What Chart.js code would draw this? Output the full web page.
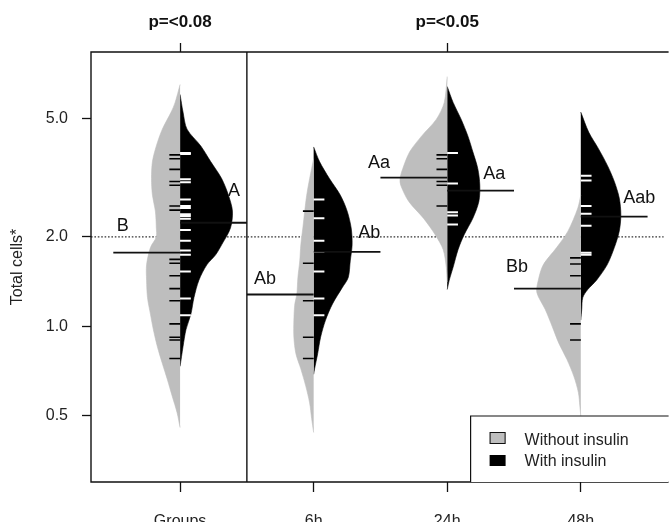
<!DOCTYPE html>
<html><head><meta charset="utf-8">
<script src="https://cdn.jsdelivr.net/npm/chart.js@4.4.1/dist/chart.umd.min.js"></script>
<style>html,body{margin:0;padding:0;background:#fff;overflow:hidden}canvas{display:block}</style>
</head><body>
<canvas id="c" width="671" height="522"></canvas>
<script>
// ---------------- DATA ----------------
const categories = ['Groups', '6h', '24h', '48h'];
const seriesNames = ['Without insulin', 'With insulin'];
const pValueLabels = ['p=<0.08', '', 'p=<0.05', ''];
const yTickValues = [0.5, 1.0, 2.0, 5.0];
const yAxisTitle = 'Total cells*';

// bean outlines: Total cells level and half-width (category units)
const woGroupsLevels = [6.50, 5.66, 5.25, 4.60, 4.04, 3.58, 3.14, 2.76, 2.44, 2.14, 2.00, 1.84, 1.61, 1.43, 1.25, 1.10, 0.975, 0.855, 0.751, 0.665, 0.583, 0.512, 0.457];
const woGroupsWidths = [0, 0.037, 0.067, 0.133, 0.178, 0.207, 0.214, 0.207, 0.185, 0.178, 0.178, 0.222, 0.251, 0.251, 0.244, 0.222, 0.200, 0.170, 0.133, 0.096, 0.059, 0.022, 0];
const wGroupsLevels = [6.02, 5.25, 4.60, 4.04, 3.58, 3.14, 2.76, 2.44, 2.14, 1.88, 1.74, 1.61, 1.43, 1.25, 1.10, 0.975, 0.855, 0.734];
const wGroupsWidths = [0, 0.022, 0.052, 0.155, 0.229, 0.311, 0.362, 0.392, 0.377, 0.311, 0.266, 0.200, 0.141, 0.104, 0.081, 0.044, 0.022, 0];

const wo6hLevels = [3.66, 3.14, 2.76, 2.44, 2.14, 1.88, 1.66, 1.46, 1.28, 1.19, 1.05, 0.92, 0.81, 0.72, 0.63, 0.553, 0.49, 0.44];
const wo6hWidths = [0, 0.030, 0.052, 0.067, 0.081, 0.096, 0.104, 0.118, 0.126, 0.141, 0.148, 0.148, 0.133, 0.096, 0.059, 0.030, 0.015, 0];
const w6hLevels = [4.01, 3.58, 3.14, 2.76, 2.44, 2.14, 1.88, 1.66, 1.46, 1.35, 1.19, 1.05, 0.92, 0.81, 0.72, 0.69];
const w6hWidths = [0, 0.044, 0.118, 0.200, 0.251, 0.281, 0.288, 0.274, 0.259, 0.214, 0.141, 0.089, 0.052, 0.030, 0.007, 0];

const wo24hLevels = [6.91, 5.66, 4.97, 4.36, 3.86, 3.39, 3.14, 2.98, 2.63, 2.31, 2.03, 1.81, 1.58, 1.41];
const wo24hWidths = [0, 0.022, 0.081, 0.192, 0.281, 0.333, 0.353, 0.348, 0.288, 0.178, 0.089, 0.030, 0.007, 0];
const w24hLevels = [6.40, 5.66, 4.97, 4.36, 3.86, 3.39, 2.98, 2.63, 2.31, 2.03, 1.81, 1.58, 1.43, 1.33];
const w24hWidths = [0, 0.044, 0.104, 0.155, 0.192, 0.229, 0.244, 0.237, 0.192, 0.126, 0.081, 0.044, 0.015, 0];

const wo48hLevels = [2.76, 2.50, 2.09, 1.84, 1.61, 1.43, 1.30, 1.14, 1.00, 0.875, 0.775, 0.68, 0.60, 0.54, 0.50];
const wo48hWidths = [0, 0.022, 0.096, 0.181, 0.281, 0.318, 0.329, 0.266, 0.214, 0.163, 0.104, 0.052, 0.018, 0.007, 0];
const w48hLevels = [5.25, 4.50, 3.95, 3.47, 3.07, 2.70, 2.37, 2.09, 1.84, 1.61, 1.43, 1.33, 1.25, 1.14, 1.05];
const w48hWidths = [0, 0.059, 0.133, 0.200, 0.251, 0.288, 0.300, 0.288, 0.251, 0.197, 0.118, 0.052, 0.015, 0.007, 0];

// individual observations (rug)
const rugWoGroups = [3.77, 3.66, 3.37, 3.07, 2.98, 2.54, 2.46, 1.68, 1.63, 1.48, 1.34, 1.22, 1.02, 0.92, 0.90, 0.78];
const rugWGroups = [3.83, 3.80, 3.12, 3.05, 2.67, 2.54, 2.50, 2.38, 2.35, 2.30, 2.11, 1.94, 1.80, 1.74, 1.53, 1.24, 1.09];
const rugWo6h = [2.44, 1.63, 1.22, 0.92, 0.78];
const rugW6h = [2.67, 2.31, 1.94, 1.78, 1.53, 1.24, 1.09];
const rugWo24h = [3.77, 3.66, 3.37, 3.07, 2.98, 2.54];
const rugW24h = [3.83, 3.02, 2.42, 2.36, 2.20];
const rugWo48h = [1.70, 1.62, 1.48, 1.02, 0.90];
const rugW48h = [3.21, 3.09, 2.54, 2.39, 2.18, 1.77, 1.74];

// bean means
const meansWithout = [1.77, 1.28, 3.16, 1.34];
const meansWith = [2.23, 1.78, 2.86, 2.34];

// significance letters
const lettersWithout = ['B', 'Ab', 'Aa', 'Bb'];
const lettersWith = ['A', 'Ab', 'Aa', 'Aab'];

// ---------------- LAYOUT / STYLE ----------------
const FONT = '"Liberation Sans", Arial, sans-serif';
const GRAY = '#bebebe';
const INK = '#111111';
const TXT = '#222222';
const X_MIN = 0.333, X_MAX = 4.62;
const Y_MIN = 0.3118, Y_MAX = 8.36;
const REF_LINE = 2.0;
const DIVIDER = 1.5;
const MEAN_HALF = 0.5;
const RUG_HALF = 0.04;
// letter anchors [x in category units, y in Total cells]
const letterPosWithout = [[0.571, 2.09], [1.636, 1.39], [2.490, 3.42], [3.522, 1.52]];
const letterPosWith = [[1.403, 2.74], [2.416, 1.985], [3.352, 3.14], [4.437, 2.59]];

const beanWithout = [[woGroupsLevels, woGroupsWidths], [wo6hLevels, wo6hWidths], [wo24hLevels, wo24hWidths], [wo48hLevels, wo48hWidths]];
const beanWith = [[wGroupsLevels, wGroupsWidths], [w6hLevels, w6hWidths], [w24hLevels, w24hWidths], [w48hLevels, w48hWidths]];
const rugWithout = [rugWoGroups, rugWo6h, rugWo24h, rugWo48h];
const rugWith = [rugWGroups, rugW6h, rugW24h, rugW48h];

function halfBean(ci, side, levels, widths) {
  const c = ci + 1;
  return levels.map((v, i) => ({x: c + side * widths[i], y: v}));
}

const datasets = [];
categories.forEach((cat, ci) => {
  datasets.push({
    label: seriesNames[0], data: halfBean(ci, -1, beanWithout[ci][0], beanWithout[ci][1]),
    showLine: true, fill: 'shape', backgroundColor: GRAY, borderColor: GRAY, borderWidth: 0.6,
    pointRadius: 0, tension: 0.3, order: 3
  });
  datasets.push({
    label: seriesNames[1], data: halfBean(ci, 1, beanWith[ci][0], beanWith[ci][1]),
    showLine: true, fill: 'shape', backgroundColor: '#000', borderColor: '#000', borderWidth: 0.6,
    pointRadius: 0, tension: 0.3, order: 3
  });
});
datasets.push({
  label: seriesNames[0] + ' obs',
  data: rugWithout.flatMap((arr, ci) => arr.map(v => ({x: ci + 1 - RUG_HALF, y: v}))),
  pointStyle: 'line', pointRadius: 5.4, borderColor: '#000', borderWidth: 1.6, showLine: false, order: 2
});
datasets.push({
  label: seriesNames[1] + ' obs',
  data: rugWith.flatMap((arr, ci) => arr.map(v => ({x: ci + 1 + RUG_HALF, y: v}))),
  pointStyle: 'line', pointRadius: 5.4, borderColor: '#fff', borderWidth: 2, showLine: false, order: 2
});
categories.forEach((cat, ci) => {
  const c = ci + 1;
  datasets.push({
    label: seriesNames[0] + ' mean', data: [{x: c - MEAN_HALF, y: meansWithout[ci]}, {x: c, y: meansWithout[ci]}],
    showLine: true, borderColor: INK, borderWidth: 1.8, pointRadius: 0, fill: false, order: 1
  });
  datasets.push({
    label: seriesNames[1] + ' mean', data: [{x: c, y: meansWith[ci]}, {x: c + MEAN_HALF, y: meansWith[ci]}],
    showLine: true, borderColor: INK, borderWidth: 1.8, pointRadius: 0, fill: false, order: 1
  });
});

const decor = {
  id: 'decor',
  beforeDatasetsDraw(chart) {
    const {ctx, chartArea: a, scales: {x, y}} = chart;
    const py = y.getPixelForValue(REF_LINE);
    ctx.save();
    ctx.strokeStyle = '#333'; ctx.lineWidth = 1.3; ctx.setLineDash([1.6, 1.8]);
    ctx.beginPath(); ctx.moveTo(a.left, py); ctx.lineTo(a.right, py); ctx.stroke();
    ctx.restore();
  },
  afterDatasetsDraw(chart) {
    const {ctx, chartArea: a, scales: {x, y}} = chart;
    ctx.save();
    ctx.strokeStyle = INK; ctx.lineWidth = 1.4;
    ctx.beginPath();
    ctx.moveTo(a.right + 5, a.top); ctx.lineTo(a.left, a.top); ctx.lineTo(a.left, a.bottom); ctx.lineTo(a.right + 5, a.bottom);
    ctx.stroke();
    const dx = x.getPixelForValue(DIVIDER);
    ctx.beginPath(); ctx.moveTo(dx, a.top); ctx.lineTo(dx, a.bottom); ctx.stroke();
    // letters
    ctx.fillStyle = INK; ctx.font = '18px ' + FONT; ctx.textAlign = 'center'; ctx.textBaseline = 'alphabetic';
    lettersWithout.forEach((t, i) => ctx.fillText(t, x.getPixelForValue(letterPosWithout[i][0]), y.getPixelForValue(letterPosWithout[i][1])));
    lettersWith.forEach((t, i) => ctx.fillText(t, x.getPixelForValue(letterPosWith[i][0]), y.getPixelForValue(letterPosWith[i][1])));
    // legend
    const lx = a.right - 193, ly = a.bottom - 66;
    ctx.fillStyle = '#fff'; ctx.fillRect(lx, ly, a.right - lx + 5, a.bottom - ly);
    ctx.lineWidth = 1.2; ctx.strokeStyle = INK;
    ctx.beginPath(); ctx.moveTo(lx, a.bottom); ctx.lineTo(lx, ly); ctx.lineTo(a.right + 5, ly); ctx.stroke();
    ctx.fillStyle = GRAY; ctx.fillRect(lx + 19, ly + 16, 16, 12);
    ctx.lineWidth = 1; ctx.strokeRect(lx + 19.5, ly + 16.5, 15, 11);
    ctx.fillStyle = '#000'; ctx.fillRect(lx + 19, ly + 39, 16, 11);
    ctx.fillStyle = TXT; ctx.font = '16px ' + FONT; ctx.textAlign = 'left'; ctx.textBaseline = 'middle';
    ctx.fillText(seriesNames[0], lx + 54, ly + 25);
    ctx.fillText(seriesNames[1], lx + 54, ly + 46);
    ctx.restore();
  }
};

new Chart(document.getElementById('c'), {
  type: 'scatter',
  data: {datasets},
  plugins: [decor],
  options: {
    responsive: false, animation: false, events: [],
    layout: {padding: 0},
    plugins: {legend: {display: false}, tooltip: {enabled: false}},
    scales: {
      x: {
        type: 'linear', position: 'bottom', min: X_MIN, max: X_MAX,
        afterBuildTicks: s => { s.ticks = categories.map((_, i) => ({value: i + 1})); },
        afterFit: s => { s.height = 40; },
        ticks: {callback: v => categories[v - 1], font: {family: FONT, size: 16}, color: TXT, padding: 20, autoSkip: false, maxRotation: 0},
        grid: {drawOnChartArea: false, drawTicks: true, tickLength: 10, tickColor: INK, tickWidth: 1.3},
        border: {display: false}
      },
      xTop: {
        type: 'linear', position: 'top', min: X_MIN, max: X_MAX,
        afterBuildTicks: s => { s.ticks = pValueLabels.map((t, i) => t ? {value: i + 1} : null).filter(Boolean); },
        afterFit: s => { s.height = 52; },
        ticks: {callback: v => pValueLabels[v - 1], font: {family: FONT, size: 17, weight: 'bold'}, color: INK, padding: 10, autoSkip: false, maxRotation: 0},
        grid: {drawOnChartArea: false, drawTicks: true, tickLength: 9, tickColor: INK, tickWidth: 1.3},
        border: {display: false}
      },
      y: {
        type: 'logarithmic', min: Y_MIN, max: Y_MAX,
        afterBuildTicks: s => { s.ticks = yTickValues.map(v => ({value: v})); },
        afterFit: s => { s.width = 91; },
        ticks: {callback: v => Number(v).toFixed(1), font: {family: FONT, size: 16}, color: TXT, padding: 14, autoSkip: false},
        grid: {drawOnChartArea: false, drawTicks: true, tickLength: 9, tickColor: INK, tickWidth: 1.3},
        border: {display: false},
        title: {display: true, text: yAxisTitle, font: {family: FONT, size: 16}, color: TXT, padding: {top: 8, bottom: 0}}
      }
    }
  }
});
</script>
</body></html>
